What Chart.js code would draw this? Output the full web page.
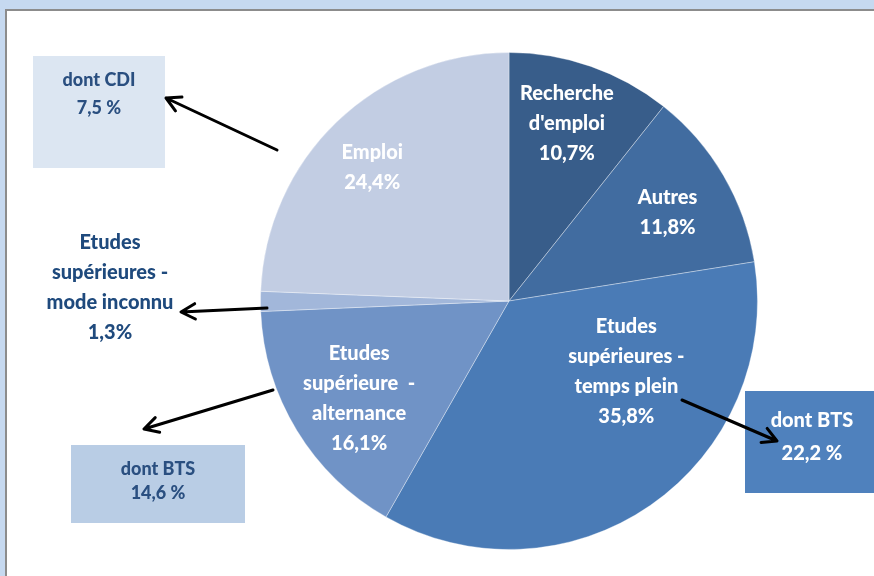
<!DOCTYPE html>
<html>
<head>
    <title>Pie</title>
    <script src="https://cdn.jsdelivr.net/npm/chart.js"></script>
    <style>
        html, body { margin: 0; padding: 0; background: #c6d9f0; overflow: hidden; }
        #frame { position: absolute; left: 5px; top: 9px; right: 0; bottom: 0;
                 background: #fff; border-left: 2px solid #8c8c8c; border-top: 2px solid #8c8c8c; }
        #myChart { position: absolute; left: 0; top: 0; }
    </style>
</head>
<body>
    <div id="frame"></div>
    <canvas id="myChart" width="874" height="576"></canvas>

    <script>
        // data
        var categories = ["Recherche d'emploi", "Autres", "Etudes supérieures - temps plein",
                          "Etudes supérieure - alternance", "Etudes supérieures - mode inconnu", "Emploi"];
        var labelLines = [
            ["Recherche", "d'emploi"],
            ["Autres"],
            ["Etudes", "supérieures -", "temps plein"],
            ["Etudes", "supérieure  -", "alternance"],
            ["Etudes", "supérieures -", "mode inconnu"],
            ["Emploi"]
        ];
        var values = [10.7, 11.8, 35.8, 16.1, 1.3, 24.4];

        // "dont ..." sub values
        var subLabels = ["dont CDI", "dont BTS", "dont BTS"];
        var subValues = [7.5, 14.6, 22.2];

        var colors = ["#385d8a", "#416ca0", "#4a7bb6", "#7093c6", "#a2b7da", "#c2cde3"];

        function fmt(v) { return v.toFixed(1).replace(".", ","); }

        // where the label sits inside its slice: [fraction of the angle, fraction of the radius]
        var labelAnchors = [[0.47, 0.75], [0.53, 0.73], [0.31, 0.55], [0.47, 0.72], null, [0.48, 0.77]];

        function drawLines(ctx, lines, x, y, lh) {
            var top = y - (lines.length - 1) * lh / 2;
            lines.forEach(function (t, k) { ctx.fillText(t, x, top + k * lh); });
        }

        function arrow(ctx, x1, y1, x2, y2) {
            var a = Math.atan2(y2 - y1, x2 - x1), h = 16;
            ctx.beginPath();
            ctx.moveTo(x1, y1); ctx.lineTo(x2, y2);
            ctx.moveTo(x2 - h * Math.cos(a - 0.5), y2 - h * Math.sin(a - 0.5));
            ctx.lineTo(x2, y2);
            ctx.lineTo(x2 - h * Math.cos(a + 0.5), y2 - h * Math.sin(a + 0.5));
            ctx.stroke();
        }

        var labelsPlugin = {
            id: "labels",
            afterDatasetsDraw: function (chart) {
                var ctx = chart.ctx;
                var meta = chart.getDatasetMeta(0);
                ctx.save();
                ctx.textAlign = "center";
                ctx.textBaseline = "middle";
                ctx.font = "900 20px Lato";
                ctx.fillStyle = "#ffffff";
                meta.data.forEach(function (arc, i) {
                    var p = labelAnchors[i];
                    if (!p) return;
                    var ang = arc.startAngle + p[0] * (arc.endAngle - arc.startAngle);
                    var r = arc.outerRadius * p[1];
                    var x = arc.x + Math.cos(ang) * r, y = arc.y + Math.sin(ang) * r;
                    drawLines(ctx, labelLines[i].concat([fmt(values[i]) + "%"]), x, y, 30);
                });

                // outside label for the thin slice
                ctx.fillStyle = "#1f4a7d";
                drawLines(ctx, labelLines[4].concat([fmt(values[4]) + "%"]), 110, 288, 30);

                // boxes
                ctx.fillStyle = "#dce6f2"; ctx.fillRect(33, 56, 132, 112);
                ctx.fillStyle = "#b9cde5"; ctx.fillRect(71, 445, 174, 78);
                ctx.fillStyle = "#4f81bd"; ctx.fillRect(745, 391, 129, 102);

                ctx.font = "900 18px Lato";
                ctx.fillStyle = "#2a4f80";
                drawLines(ctx, [subLabels[0], fmt(subValues[0]) + " %"], 99, 94, 28);
                drawLines(ctx, [subLabels[1], fmt(subValues[1]) + " %"], 158, 481, 24);
                ctx.font = "900 20px Lato";
                ctx.fillStyle = "#ffffff";
                drawLines(ctx, [subLabels[2], fmt(subValues[2]) + " %"], 812, 437, 33);

                // arrows
                ctx.strokeStyle = "#000000";
                ctx.lineWidth = 3;
                ctx.lineCap = "round";
                ctx.lineJoin = "round";
                arrow(ctx, 277, 150, 166, 98);
                arrow(ctx, 267, 308, 181, 312);
                arrow(ctx, 273, 390, 144, 429);
                arrow(ctx, 682, 400, 777, 441);
                ctx.restore();
            }
        };

        var ctx = document.getElementById("myChart").getContext("2d");
        new Chart(ctx, {
            type: "pie",
            data: {
                labels: categories,
                datasets: [{
                    data: values,
                    backgroundColor: colors,
                    borderColor: "rgba(255,255,255,0.35)",
                    borderWidth: 1
                }]
            },
            options: {
                responsive: false,
                animation: false,
                devicePixelRatio: 1,
                layout: { padding: { left: 260, right: 116, top: 51, bottom: 25 } },
                plugins: {
                    legend: { display: false },
                    tooltip: { enabled: false }
                }
            },
            plugins: [labelsPlugin]
        });
    </script>
</body>
</html>
